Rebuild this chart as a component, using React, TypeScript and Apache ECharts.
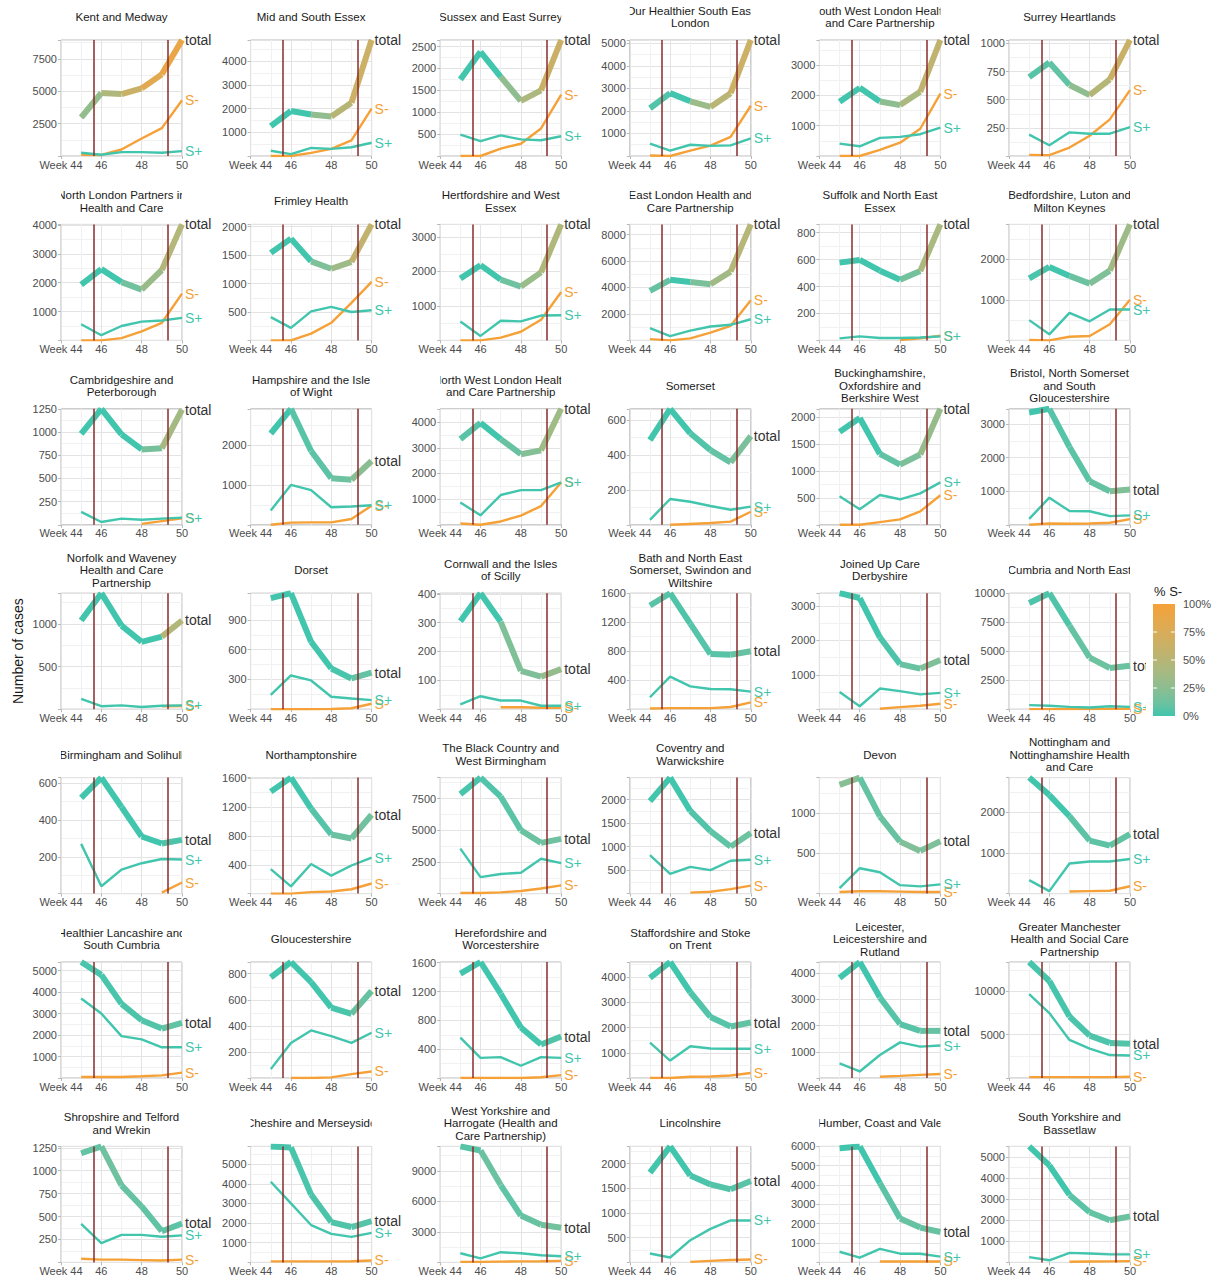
import React, { useEffect, useRef } from "react";
import * as echarts from "echarts";

// ---------------- data ----------------
const weeks = [45, 46, 47, 48, 49, 50];
const xTickWeeks = [44, 46, 48, 50];
const policyWeeks = [45.6, 49.3];
const legendTicks = [0, 25, 50, 75, 100];

const regions = [
  "Kent and Medway",
  "Mid and South Essex",
  "Sussex and East Surrey",
  "Our Healthier South East\nLondon",
  "South West London Health\nand Care Partnership",
  "Surrey Heartlands",
  "North London Partners in\nHealth and Care",
  "Frimley Health",
  "Hertfordshire and West\nEssex",
  "East London Health and\nCare Partnership",
  "Suffolk and North East\nEssex",
  "Bedfordshire, Luton and\nMilton Keynes",
  "Cambridgeshire and\nPeterborough",
  "Hampshire and the Isle\nof Wight",
  "North West London Health\nand Care Partnership",
  "Somerset",
  "Buckinghamshire,\nOxfordshire and\nBerkshire West",
  "Bristol, North Somerset\nand South\nGloucestershire",
  "Norfolk and Waveney\nHealth and Care\nPartnership",
  "Dorset",
  "Cornwall and the Isles\nof Scilly",
  "Bath and North East\nSomerset, Swindon and\nWiltshire",
  "Joined Up Care\nDerbyshire",
  "Cumbria and North East",
  "Birmingham and Solihull",
  "Northamptonshire",
  "The Black Country and\nWest Birmingham",
  "Coventry and\nWarwickshire",
  "Devon",
  "Nottingham and\nNottinghamshire Health\nand Care",
  "Healthier Lancashire and\nSouth Cumbria",
  "Gloucestershire",
  "Herefordshire and\nWorcestershire",
  "Staffordshire and Stoke\non Trent",
  "Leicester,\nLeicestershire and\nRutland",
  "Greater Manchester\nHealth and Social Care\nPartnership",
  "Shropshire and Telford\nand Wrekin",
  "Cheshire and Merseyside",
  "West Yorkshire and\nHarrogate (Health and\nCare Partnership)",
  "Lincolnshire",
  "Humber, Coast and Vale",
  "South Yorkshire and\nBassetlaw",
];

const totalCases = [
  [2970, 4860, 4780, 5220, 6300, 8950],
  [1260, 1900, 1750, 1670, 2250, 4900],
  [1750, 2380, 1810, 1260, 1500, 2650],
  [2120, 2790, 2430, 2180, 2790, 5150],
  [1790, 2250, 1800, 1680, 2120, 3830],
  [700, 830, 630, 540, 680, 1030],
  [1930, 2470, 2020, 1760, 2440, 4020],
  [1540, 1790, 1390, 1260, 1380, 2040],
  [1790, 2180, 1760, 1560, 1970, 3360],
  [3740, 4580, 4420, 4250, 5200, 8770],
  [578, 598, 518, 450, 515, 862],
  [1530, 1810, 1590, 1400, 1720, 2860],
  [980, 1250, 975, 812, 825, 1240],
  [2290, 2910, 1850, 1170, 1130, 1600],
  [3340, 3970, 3340, 2750, 2900, 4520],
  [485, 665, 525, 428, 358, 508],
  [1730, 1990, 1320, 1120, 1310, 2160],
  [3350, 3460, 2320, 1300, 1000, 1050],
  [1040, 1360, 980, 790, 850, 1040],
  [1120, 1170, 680, 410, 310, 370],
  [305, 402, 303, 133, 113, 139],
  [1430, 1600, 1180, 760, 750, 800],
  [3370, 3230, 2090, 1310, 1180, 1430],
  [9150, 10000, 7200, 4450, 3550, 3750],
  [520, 630, 470, 310, 272, 292],
  [1415, 1610, 1180, 820, 765, 1095],
  [7850, 9150, 7650, 5000, 4000, 4320],
  [1970, 2470, 1760, 1330, 1000, 1290],
  [1350, 1440, 960, 645, 530, 650],
  [2850, 2420, 1900, 1300, 1180, 1460],
  [5400, 4800, 3450, 2690, 2300, 2570],
  [772, 890, 735, 540, 492, 668],
  [1450, 1610, 1170, 700, 465, 575],
  [3970, 4600, 3400, 2420, 2040, 2200],
  [3820, 4430, 3080, 2060, 1800, 1800],
  [13400, 11200, 7100, 4900, 4050, 3950],
  [1190, 1265, 840, 610, 340, 425],
  [5900, 5850, 3450, 2050, 1800, 2100],
  [11400, 11000, 7600, 4600, 3700, 3400],
  [1820, 2350, 1760, 1580, 1480, 1650],
  [5900, 6000, 4100, 2270, 1800, 1570],
  [5500, 4600, 3200, 2380, 2000, 2180],
];

const sNegCases = [
  [100, 80, 500, 1350, 2150, 4300],
  [0, 0, 130, 300, 660, 2000],
  [0, 0, 170, 280, 630, 1400],
  [20, 0, 240, 460, 850, 2230],
  [0, 0, 200, 440, 900, 2060],
  [10, 8, 75, 180, 325, 585],
  [0, 0, 80, 310, 610, 1620],
  [0, 0, 120, 310, 660, 1030],
  [0, 0, 80, 250, 600, 1400],
  [100, 0, 150, 590, 1100, 3030],
  [null, null, null, 3, 15, 35],
  [10, 0, 90, 110, 400, 1000],
  [null, null, null, 10, 40, 70],
  [0, 55, 60, 60, 145, 480],
  [50, 0, 130, 360, 730, 1650],
  [null, 0, 5, 10, 18, 75],
  [0, 0, 50, 100, 250, 550],
  [0, 40, 30, 40, 60, 170],
  [null, null, null, null, 35, 38],
  [0, 0, 0, 2, 10, 55],
  [null, null, 7, 7, 5, 5],
  [10, 15, 15, 15, 30, 95],
  [null, null, 15, 60, 100, 160],
  [10, 10, 20, 20, 30, 40],
  [null, null, null, null, 5, 60],
  [0, 0, 20, 30, 60, 140],
  [50, 50, 100, 200, 400, 650],
  [null, null, 20, 40, 95, 170],
  [20, 30, 30, 25, 20, 20],
  [null, null, 50, 60, 70, 180],
  [50, 50, 50, 80, 120, 250],
  [null, 0, 0, 5, 30, 50],
  [0, 0, 0, 0, 10, 40],
  [0, 0, 50, 60, 100, 200],
  [null, null, 50, 80, 120, 150],
  [100, 100, 100, 100, 100, 150],
  [40, 30, 30, 25, 20, 30],
  [50, 50, 50, 50, 60, 100],
  [50, 50, 80, 100, 120, 150],
  [null, null, 10, 30, 50, 60],
  [null, null, 50, 50, 50, 50],
  [null, null, 30, 40, 50, 60],
];

const sPosCases = [
  [250, 100, 300, 300, 250, 380],
  [220, 80, 340, 300, 370, 560],
  [490, 340, 470, 380, 360, 450],
  [550, 240, 500, 450, 470, 780],
  [410, 320, 600, 630, 720, 940],
  [190, 95, 210, 198, 198, 257],
  [560, 180, 500, 650, 690, 780],
  [410, 220, 510, 590, 500, 530],
  [550, 130, 570, 550, 720, 730],
  [920, 330, 740, 1050, 1180, 1600],
  [15, 30, 18, 18, 22, 30],
  [500, 150, 680, 470, 760, 760],
  [140, 30, 66, 55, 66, 77],
  [360, 1000, 870, 440, 460, 490],
  [870, 370, 1160, 1350, 1350, 1650],
  [28, 148, 132, 108, 86, 104],
  [530, 290, 555, 475, 585, 790],
  [175, 810, 410, 405, 258, 280],
  [120, 35, 45, 25, 40, 45],
  [145, 340, 290, 125, 108, 92],
  [17, 45, 30, 30, 12, 12],
  [165, 450, 315, 278, 275, 243],
  [500, 85, 600, 525, 430, 475],
  [350, 300, 200, 150, 250, 200],
  [270, 40, 130, 165, 188, 185],
  [340, 100, 410, 250, 390, 500],
  [3550, 1300, 1550, 1650, 2750, 2400],
  [820, 420, 570, 500, 700, 720],
  [68, 315, 265, 105, 90, 115],
  [330, 60, 740, 790, 790, 850],
  [3700, 3000, 1950, 1800, 1430, 1430],
  [68, 268, 365, 322, 270, 347],
  [560, 280, 290, 170, 290, 280],
  [1400, 690, 1260, 1170, 1160, 1160],
  [560, 250, 880, 1360, 1200, 1240],
  [9700, 7500, 4400, 3400, 2650, 2600],
  [420, 210, 300, 300, 280, 295],
  [4100, 3000, 1900, 1450, 1300, 1500],
  [900, 400, 1000, 900, 700, 600],
  [180, 100, 450, 680, 850, 850],
  [550, 250, 700, 450, 450, 300],
  [250, 100, 450, 420, 380, 380],
];

const yStep = [
  2500, 1000, 500, 1000, 1000, 250,
  1000, 500, 1000, 2000, 200, 1000,
  250, 1000, 1000, 200, 500, 1000,
  500, 300, 100, 400, 1000, 2500,
  200, 400, 2500, 500, 500, 1000,
  1000, 200, 400, 1000, 1000, 5000,
  250, 1000, 3000, 500, 1000, 1000,
];

// ---------------- style / layout ----------------
const TEAL = "#41C5AD";
const ORANGE = "#F5A137";
const VLINE = "#8a2b2b";
const FONT = "'Liberation Sans', Arial, Helvetica, sans-serif";
const COLS = 6;
const LEFT0 = 61;
const COL_STEP = 189.6;
const TOP0 = 40;
const ROW_STEP = 184.4;
const PW = 121;
const PH = 116;

// colour scale (Lab interpolation like ggplot's gradient)
function hexToRgb(h: string) {
  const n = parseInt(h.slice(1), 16);
  return [(n >> 16) & 255, (n >> 8) & 255, n & 255];
}
function toLin(c: number) {
  c /= 255;
  return c <= 0.04045 ? c / 12.92 : Math.pow((c + 0.055) / 1.055, 2.4);
}
function fromLin(c: number) {
  const v = c <= 0.0031308 ? 12.92 * c : 1.055 * Math.pow(Math.max(c, 0), 1 / 2.4) - 0.055;
  return Math.round(Math.min(1, Math.max(0, v)) * 255);
}
const XN = 0.95047, ZN = 1.08883;
function rgbToLab(rgb: number[]) {
  const [r, g, b] = rgb.map(toLin);
  const x = (0.4124564 * r + 0.3575761 * g + 0.1804375 * b) / XN;
  const y = 0.2126729 * r + 0.7151522 * g + 0.072175 * b;
  const z = (0.0193339 * r + 0.119192 * g + 0.9503041 * b) / ZN;
  const f = (t: number) => (t > 0.008856 ? Math.cbrt(t) : 7.787 * t + 16 / 116);
  const fx = f(x), fy = f(y), fz = f(z);
  return [116 * fy - 16, 500 * (fx - fy), 200 * (fy - fz)];
}
function labToRgb(lab: number[]) {
  const [L, a, b] = lab;
  const fy = (L + 16) / 116, fx = fy + a / 500, fz = fy - b / 200;
  const inv = (t: number) => (t * t * t > 0.008856 ? t * t * t : (t - 16 / 116) / 7.787);
  const x = inv(fx) * XN, y = inv(fy), z = inv(fz) * ZN;
  const r = 3.2404542 * x - 1.5371385 * y - 0.4985314 * z;
  const g = -0.969266 * x + 1.8760108 * y + 0.041556 * z;
  const bl = 0.0556434 * x - 0.2040259 * y + 1.0572252 * z;
  return `rgb(${fromLin(r)},${fromLin(g)},${fromLin(bl)})`;
}
const LAB_LOW = rgbToLab(hexToRgb(TEAL));
const LAB_HIGH = rgbToLab(hexToRgb(ORANGE));
function shareColor(t: number) {
  const k = Math.max(0, Math.min(1, t));
  return labToRgb(LAB_LOW.map((v, i) => v + (LAB_HIGH[i] - v) * k));
}

function panelPos(p: number) {
  const r = Math.floor(p / COLS), c = p % COLS;
  return { left: LEFT0 + c * COL_STEP, top: TOP0 + r * ROW_STEP, r, c };
}

function buildOption() {
  const grid: any[] = [];
  const xAxis: any[] = [];
  const yAxis: any[] = [];
  const series: any[] = [];
  const graphic: any[] = [];

  regions.forEach((name, p) => {
    const { left, top } = panelPos(p);
    const tot = totalCases[p], neg = sNegCases[p], pos = sPosCases[p];
    const vals = [...tot, ...neg, ...pos].filter((v) => v != null) as number[];
    const ymax = Math.max(...vals);
    const step = yStep[p];

    grid.push({
      left, top, width: PW, height: PH, show: true,
      borderColor: "#b8b8b8", borderWidth: 1, backgroundColor: "#fff",
    });
    xAxis.push({
      gridIndex: p, type: "value", min: 44, max: 50, interval: 2,
      axisLine: { show: false },
      axisTick: { show: true, length: 3, lineStyle: { color: "#b8b8b8" } },
      axisLabel: {
        margin: 3, fontSize: 11, color: "#4d4d4d", fontFamily: FONT,
        formatter: (v: number) =>
          xTickWeeks.indexOf(v) === 0 ? "Week " + v : xTickWeeks.indexOf(v) > 0 ? String(v) : "",
      },
      splitLine: { show: true, lineStyle: { color: "#e3e3e3", width: 1 } },
      minorTick: { show: false, splitNumber: 2 },
      minorSplitLine: { show: true, lineStyle: { color: "#f1f1f1", width: 1 } },
    });
    yAxis.push({
      gridIndex: p, type: "value", min: 0, max: ymax, interval: step,
      axisLine: { show: false },
      axisTick: { show: true, length: 3, lineStyle: { color: "#b8b8b8" } },
      axisLabel: {
        margin: 4, fontSize: 11, color: "#4d4d4d", fontFamily: FONT,
        formatter: (v: number) =>
          v > 0 && Math.abs(v / step - Math.round(v / step)) < 1e-6 ? String(v) : "",
      },
      splitLine: { show: true, lineStyle: { color: "#e3e3e3", width: 1 } },
      minorTick: { show: false, splitNumber: 2 },
      minorSplitLine: { show: true, lineStyle: { color: "#f1f1f1", width: 1 } },
    });

    // S- line
    series.push({
      type: "line", xAxisIndex: p, yAxisIndex: p, silent: true, z: 2,
      symbol: "none", showSymbol: false, connectNulls: false,
      data: weeks.map((w, i) => [w, neg[i]]),
      lineStyle: { color: ORANGE, width: 2.4 },
      emphasis: { disabled: true },
      endLabel: { show: true, formatter: "S-", color: ORANGE, fontSize: 14, fontFamily: FONT, distance: 3 },
    });
    // S+ line (with the vertical reference lines)
    series.push({
      type: "line", xAxisIndex: p, yAxisIndex: p, silent: true, z: 3,
      symbol: "none", showSymbol: false,
      data: weeks.map((w, i) => [w, pos[i]]),
      lineStyle: { color: TEAL, width: 2.4 },
      emphasis: { disabled: true },
      endLabel: { show: true, formatter: "S+", color: TEAL, fontSize: 14, fontFamily: FONT, distance: 3 },
      markLine: {
        silent: true, symbol: ["none", "none"], z: 6,
        label: { show: false },
        lineStyle: { color: VLINE, width: 1.5, type: "solid" },
        emphasis: { disabled: true },
        data: policyWeeks.map((w) => ({ xAxis: w })),
      },
    });
    // total line, one segment per week coloured by share of S-
    for (let i = 0; i < weeks.length - 1; i++) {
      const n = neg[i] == null ? 0 : (neg[i] as number);
      const s = pos[i] == null ? 0 : (pos[i] as number);
      const share = n + s > 0 ? n / (n + s) : 0;
      const last = i === weeks.length - 2;
      series.push({
        type: "line", xAxisIndex: p, yAxisIndex: p, silent: true, z: 4,
        symbol: "none", showSymbol: false,
        data: [[weeks[i], tot[i]], [weeks[i + 1], tot[i + 1]]],
        lineStyle: { color: shareColor(share), width: 6, cap: "butt" },
        emphasis: { disabled: true },
        endLabel: last
          ? { show: true, formatter: "total", color: "#333333", fontSize: 14, fontFamily: FONT, distance: 3 }
          : { show: false },
      });
    }

    // panel title
    graphic.push({
      type: "text", x: left + PW / 2, y: top - 23, z: 50, silent: true,
      style: {
        text: name, textAlign: "center", textVerticalAlign: "middle",
        fontSize: 11.5, fontFamily: FONT, fill: "#1a1a1a", lineHeight: 12.5,
      },
    });
  });

  // masks that clip the titles to the panel width
  const rows = Math.ceil(regions.length / COLS);
  for (let r = 0; r < rows; r++) {
    const top = TOP0 + r * ROW_STEP;
    const edges: number[] = [0];
    for (let c = 0; c < COLS; c++) {
      edges.push(LEFT0 + c * COL_STEP, LEFT0 + c * COL_STEP + PW);
    }
    edges.push(1215);
    for (let k = 0; k < edges.length; k += 2) {
      graphic.push({
        type: "rect", z: 60, silent: true,
        shape: { x: edges[k], y: top - 45, width: Math.max(0, edges[k + 1] - edges[k]), height: 35 },
        style: { fill: "#ffffff" },
      });
    }
  }

  // y-axis title
  graphic.push({
    type: "text", x: 18, y: TOP0 + 3 * ROW_STEP + PH / 2, rotation: Math.PI / 2, z: 50, silent: true,
    style: {
      text: "Number of cases", textAlign: "center", textVerticalAlign: "middle",
      fontSize: 14, fontFamily: FONT, fill: "#1a1a1a",
    },
  });

  // legend
  const barX = 1153, barY = 604, barW = 22, barH = 112;
  graphic.push({
    type: "rect", z: 100, silent: true,
    shape: { x: 1146, y: 580, width: 69, height: 150 },
    style: { fill: "#ffffff" },
  });
  graphic.push({
    type: "text", x: 1154, y: 591, z: 101, silent: true,
    style: { text: "% S-", textAlign: "left", textVerticalAlign: "middle", fontSize: 13, fontFamily: FONT, fill: "#1a1a1a" },
  });
  const stops: any[] = [];
  for (let k = 0; k <= 10; k++) stops.push({ offset: k / 10, color: shareColor(1 - k / 10) });
  graphic.push({
    type: "rect", z: 101, silent: true,
    shape: { x: barX, y: barY, width: barW, height: barH },
    style: { fill: new echarts.graphic.LinearGradient(0, 0, 0, 1, stops) },
  });
  legendTicks.forEach((t) => {
    const y = barY + barH - (t / 100) * barH;
    if (t > 0 && t < 100) {
      graphic.push({
        type: "line", z: 102, silent: true,
        shape: { x1: barX, y1: y, x2: barX + 4, y2: y },
        style: { stroke: "#ffffff", lineWidth: 1 },
      });
      graphic.push({
        type: "line", z: 102, silent: true,
        shape: { x1: barX + barW - 4, y1: y, x2: barX + barW, y2: y },
        style: { stroke: "#ffffff", lineWidth: 1 },
      });
    }
    graphic.push({
      type: "text", x: barX + barW + 8, y, z: 102, silent: true,
      style: { text: t + "%", textAlign: "left", textVerticalAlign: "middle", fontSize: 11, fontFamily: FONT, fill: "#4d4d4d" },
    });
  });

  return {
    animation: false,
    backgroundColor: "#ffffff",
    textStyle: { fontFamily: FONT },
    grid, xAxis, yAxis, series, graphic,
  };
}

export default function App() {
  const ref = useRef<HTMLDivElement>(null);
  useEffect(() => {
    if (!ref.current) return;
    const chart = echarts.init(ref.current, undefined, { renderer: "svg" });
    chart.setOption(buildOption() as any);
    return () => chart.dispose();
  }, []);
  return (
    <div
      ref={ref}
      style={{ position: "absolute", left: 0, top: 0, width: 1215, height: 1277, background: "#fff" }}
    />
  );
}
